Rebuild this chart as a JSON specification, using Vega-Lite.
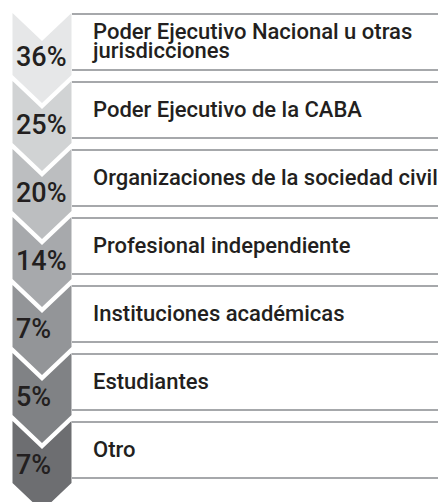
{
  "$schema": "https://vega.github.io/schema/vega-lite/v6.json",
  "width": 438,
  "height": 502,
  "padding": 0,
  "autosize": {"type": "none"},
  "background": "white",
  "config": {"view": {"stroke": null}},
  "data": {
    "values": [
      {"row": 1, "share": 0.36, "label": "Poder Ejecutivo Nacional u otras\njurisdicciones"},
      {"row": 2, "share": 0.25, "label": "Poder Ejecutivo de la CABA"},
      {"row": 3, "share": 0.20, "label": "Organizaciones de la sociedad civil"},
      {"row": 4, "share": 0.14, "label": "Profesional independiente"},
      {"row": 5, "share": 0.07, "label": "Instituciones académicas"},
      {"row": 6, "share": 0.05, "label": "Estudiantes"},
      {"row": 7, "share": 0.07, "label": "Otro"}
    ]
  },
  "encoding": {
    "y": {"field": "row", "type": "quantitative", "scale": {"domain": [0.79412, 8.17647], "reverse": true, "zero": false, "nice": false}, "axis": null}
  },
  "layer": [
    {
      "mark": {"type": "point", "shape": "M-1,-0.034L0,0.915L1,-0.034L1,2.068L0,3.017L-1,2.068Z", "filled": true, "opacity": 1, "size": 3481, "strokeWidth": 0},
      "encoding": {
        "x": {"datum": 42, "type": "quantitative", "scale": {"domain": [0, 438], "nice": false, "zero": false}, "axis": null},
        "color": {"field": "row", "type": "ordinal", "scale": {"domain": [1, 2, 3, 4, 5, 6, 7], "range": ["#e6e7e8", "#d1d3d4", "#bcbec0", "#a7a9ac", "#939598", "#808285", "#6d6e71"]}, "legend": null}
      }
    },
    {
      "mark": {"type": "rule", "color": "#a6a8ab", "strokeWidth": 2},
      "encoding": {
        "x": {"datum": 72, "type": "quantitative"},
        "x2": {"datum": 438}
      }
    },
    {
      "mark": {"type": "rule", "color": "#a6a8ab", "strokeWidth": 2, "yOffset": 56},
      "encoding": {
        "x": {"datum": 72, "type": "quantitative"},
        "x2": {"datum": 438}
      }
    },
    {
      "mark": {"type": "text", "align": "left", "baseline": "alphabetic", "yOffset": 52, "font": "Roboto", "fontSize": 27, "fontWeight": 500, "color": "#231f20"},
      "encoding": {
        "x": {"datum": 16, "type": "quantitative"},
        "text": {"field": "share", "type": "quantitative", "format": ".0%"}
      }
    },
    {
      "transform": [{"filter": "datum.row == 1"}],
      "mark": {"type": "text", "align": "left", "baseline": "alphabetic", "yOffset": 25, "font": "Roboto", "fontSize": 22, "fontWeight": 500, "lineHeight": 19, "lineBreak": "\n", "color": "#231f20"},
      "encoding": {
        "x": {"datum": 93, "type": "quantitative"},
        "text": {"field": "label", "type": "nominal"}
      }
    },
    {
      "transform": [{"filter": "datum.row != 1"}],
      "mark": {"type": "text", "align": "left", "baseline": "alphabetic", "yOffset": 35, "font": "Roboto", "fontSize": 22, "fontWeight": 500, "color": "#231f20"},
      "encoding": {
        "x": {"datum": 93, "type": "quantitative"},
        "text": {"field": "label", "type": "nominal"}
      }
    }
  ]
}
